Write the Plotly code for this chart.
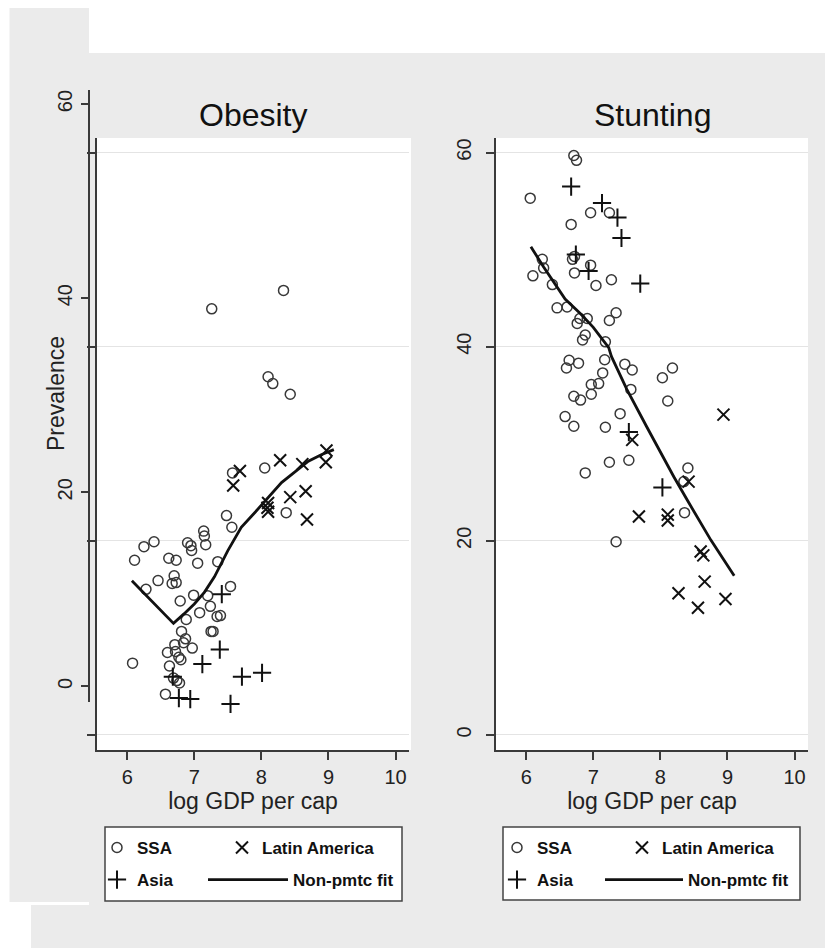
import plotly.graph_objects as go

# ---------------- data ----------------
ob_ssa_x = [7.26, 8.33, 8.10, 8.17, 8.43, 6.11, 6.25, 6.40, 6.28, 6.46, 6.62, 6.73, 6.70, 6.67, 6.73,
            6.79, 6.88, 6.90, 6.95, 6.96, 6.99, 7.05, 7.08, 7.14, 7.15, 7.17, 7.20, 7.24, 7.25, 7.28,
            7.35, 7.34, 7.39, 7.48, 7.56, 7.54, 7.57, 8.05, 8.37, 6.81, 6.87, 6.84, 6.71, 6.97, 6.60,
            6.72, 6.77, 6.80, 6.08, 6.63, 6.69, 6.74, 6.78, 6.57]
ob_ssa_y = [38.9, 40.8, 31.9, 31.2, 30.1, 13.0, 14.4, 14.9, 10.0, 10.9, 13.2, 13.0, 11.4, 10.6, 10.7,
            8.8, 6.9, 14.8, 14.5, 14.0, 9.4, 12.7, 7.6, 16.0, 15.5, 14.6, 9.35, 8.25, 5.67, 5.67,
            12.85, 7.2, 7.3, 17.6, 16.4, 10.3, 22.0, 22.5, 17.9, 5.67, 4.9, 4.5, 4.3, 3.95, 3.5,
            3.6, 3.0, 2.75, 2.4, 2.1, 0.86, 0.6, 0.35, -0.8]
ob_la_x = [7.58, 7.68, 8.10, 8.09, 8.10, 8.28, 8.43, 8.61, 8.66, 8.68, 8.96, 8.97]
ob_la_y = [20.7, 22.2, 18.9, 18.4, 18.0, 23.3, 19.5, 22.9, 20.1, 17.2, 23.1, 24.3]
ob_asia_x = [6.68, 6.77, 6.94, 7.12, 7.38, 7.41, 7.54, 7.71, 8.01]
ob_asia_y = [1.0, -1.2, -1.3, 2.3, 3.8, 9.5, -1.8, 1.0, 1.4]
ob_fit_x = [6.07, 6.69, 6.85, 7.0, 7.15, 7.3, 7.5, 7.7, 7.9, 8.1, 8.3, 8.5, 8.7, 8.9, 9.08]
ob_fit_y = [10.9, 6.5, 7.5, 8.5, 9.7, 11.3, 14.0, 16.4, 17.9, 19.5, 21.0, 22.1, 23.2, 23.9, 24.4]

st_ssa_x = [6.71, 6.75, 6.06, 6.96, 7.24, 6.67, 6.69, 6.72, 6.24, 6.26, 6.10, 6.72, 6.96, 7.04, 7.27,
            6.39, 6.46, 6.61, 6.80, 6.91, 6.76, 7.34, 7.24, 6.88, 6.84, 7.18, 7.17, 6.64, 6.60, 6.78,
            7.47, 7.58, 7.14, 8.03, 8.18, 7.56, 6.97, 7.08, 6.97, 6.71, 6.81, 8.11, 6.58, 6.71, 7.40,
            7.18, 7.24, 7.53, 6.88, 8.41, 8.35, 8.36, 7.34]
st_ssa_y = [59.7, 59.2, 55.3, 53.8, 53.8, 52.6, 49.0, 49.3, 49.0, 48.1, 47.3, 47.6, 48.4, 46.3, 46.9,
            46.4, 44.0, 44.1, 42.9, 42.9, 42.4, 43.5, 42.7, 41.2, 40.7, 40.5, 38.65, 38.6, 37.8, 38.3,
            38.2, 37.6, 37.3, 36.8, 37.8, 35.6, 36.1, 36.2, 35.1, 34.9, 34.5, 34.4, 32.8, 31.8, 33.1,
            31.7, 28.1, 28.3, 27.0, 27.5, 26.1, 22.9, 19.9]
st_la_x = [7.58, 8.94, 8.42, 7.68, 8.11, 8.11, 8.60, 8.64, 8.66, 8.27, 8.56, 8.97]
st_la_y = [30.4, 33.0, 26.1, 22.5, 22.7, 22.1, 18.9, 18.5, 15.8, 14.6, 13.1, 14.0]
st_asia_x = [6.67, 7.13, 7.36, 7.42, 6.74, 6.93, 7.70, 7.53, 8.03]
st_asia_y = [56.5, 54.8, 53.3, 51.2, 49.5, 47.8, 46.5, 31.2, 25.5]
st_fit_x = [6.07, 6.26, 6.58, 6.81, 7.0, 7.23, 7.27, 7.5, 7.8, 8.05, 8.2, 8.4, 8.75, 9.1]
st_fit_y = [50.3, 48.2, 44.9, 43.4, 42.0, 39.9, 39.0, 35.6, 31.7, 28.5, 26.6, 24.2, 20.1, 16.4]

x_ticks = [6, 7, 8, 9, 10]
y_ticks = [0, 20, 40, 60]
inner_ticks = [-5, 15, 35, 55]
panel_titles = ["Obesity", "Stunting"]
x_title = "log GDP per cap"
y_title = "Prevalence"
names = ["SSA", "Latin America", "Asia", "Non-pmtc fit"]

# ---------------- geometry (page pixels; the page body has an 8px margin) ----------------
PAGE_W, PAGE_H = 833, 948
OFF = 8
W, H = PAGE_W - OFF, PAGE_H - OFF
def fx(px): return (px - OFF) / W
def fy(py): return 1 - (py - OFF) / H

FONT = "Liberation Sans, Arial, sans-serif"
GRAY = "#ebebeb"
AX = "#3a3a3a"
CIRC = "#383838"
BLK = "#111111"

SSA_M = dict(symbol="circle-open", size=10, color=CIRC, line=dict(width=1.5, color=CIRC))
LA_M = dict(symbol="x-thin-open", size=12, color=BLK, line=dict(width=2.0, color=BLK))
AS_M = dict(symbol="cross-thin-open", size=13, color=BLK, line=dict(width=2.0, color=BLK))
FIT_L = dict(color=BLK, width=2.8)

fig = go.Figure()
# Obesity panel
fig.add_trace(go.Scatter(x=ob_ssa_x, y=ob_ssa_y, mode="markers", name=names[0], xaxis="x", yaxis="y",
                         legend="legend", marker=SSA_M))
fig.add_trace(go.Scatter(x=ob_la_x, y=ob_la_y, mode="markers", name=names[1], xaxis="x", yaxis="y",
                         legend="legend2", marker=LA_M))
fig.add_trace(go.Scatter(x=ob_asia_x, y=ob_asia_y, mode="markers", name=names[2], xaxis="x", yaxis="y",
                         legend="legend3", marker=AS_M))
fig.add_trace(go.Scatter(x=ob_fit_x, y=ob_fit_y, mode="lines", name=names[3], xaxis="x", yaxis="y3",
                         legend="legend4", line=FIT_L))
# Stunting panel
fig.add_trace(go.Scatter(x=st_ssa_x, y=st_ssa_y, mode="markers", name=names[0], xaxis="x2", yaxis="y2",
                         legend="legend5", marker=SSA_M))
fig.add_trace(go.Scatter(x=st_la_x, y=st_la_y, mode="markers", name=names[1], xaxis="x2", yaxis="y2",
                         legend="legend6", marker=LA_M))
fig.add_trace(go.Scatter(x=st_asia_x, y=st_asia_y, mode="markers", name=names[2], xaxis="x2", yaxis="y2",
                         legend="legend7", marker=AS_M))
fig.add_trace(go.Scatter(x=st_fit_x, y=st_fit_y, mode="lines", name=names[3], xaxis="x2", yaxis="y2",
                         legend="legend8", line=FIT_L))

# ---------------- axes ----------------
PLOT_TOP, PLOT_BOT = 138, 750
SHIFT = 48.5
xcommon = dict(range=[5.55, 10.2], tickmode="array", tickvals=x_ticks, ticks="outside", ticklen=8,
               tickwidth=1.5, tickcolor=AX, showline=True, linecolor=AX, linewidth=1.6,
               showgrid=False, zeroline=False, automargin=False,
               tickfont=dict(size=20, color="#222", family=FONT), ticklabelstandoff=0,
               title=dict(text=x_title, font=dict(size=23, color="#222", family=FONT), standoff=4))
fig.update_layout(
    xaxis=dict(domain=[fx(97), fx(409)], anchor="y", **xcommon),
    xaxis2=dict(domain=[fx(496), fx(808)], anchor="y2", **xcommon),
    yaxis=dict(domain=[fy(PLOT_BOT), fy(PLOT_TOP)], anchor="x", range=[-6.55, 56.5],
               tickmode="array", tickvals=inner_ticks, showticklabels=False, ticks="outside",
               ticklen=8, tickwidth=1.5, tickcolor=AX, showline=True, linecolor=AX, linewidth=1.6,
               showgrid=True, gridcolor="#e4e4e4", gridwidth=1, zeroline=False, automargin=False),
    yaxis3=dict(domain=[fy(PLOT_BOT - SHIFT), fy(PLOT_TOP - SHIFT)], anchor="free", position=fx(89),
                range=[-1.55, 61.5], tickmode="array", tickvals=y_ticks, tickangle=-90,
                ticks="outside", ticklen=7, tickwidth=1.5, tickcolor=AX, showline=True,
                linecolor=AX, linewidth=1.6, showgrid=False, zeroline=False, automargin=False,
                tickfont=dict(size=20, color="#222", family=FONT), ticklabelstandoff=1),
    yaxis2=dict(domain=[fy(PLOT_BOT), fy(PLOT_TOP)], anchor="x2", range=[-1.55, 61.5],
                tickmode="array", tickvals=y_ticks, tickangle=-90, ticks="outside", ticklen=8,
                tickwidth=1.5, tickcolor=AX, showline=True, linecolor=AX, linewidth=1.6,
                showgrid=True, gridcolor="#e4e4e4", gridwidth=1, zeroline=False, automargin=False,
                tickfont=dict(size=20, color="#222", family=FONT), ticklabelstandoff=7),
)

# ---------------- background / boxes ----------------
shapes = []
def rect(x0, y0, x1, y1, fill, line_color=None, lw=0):
    shapes.append(dict(type="rect", xref="paper", yref="paper", x0=fx(x0), x1=fx(x1),
                       y0=fy(y1), y1=fy(y0), fillcolor=fill, layer="below",
                       line=dict(color=line_color or fill, width=lw)))
rect(9.5, 3, 89, 902, GRAY)
rect(89, 53, 840, 960, GRAY)
rect(31, 905, 89, 960, GRAY)
rect(97, PLOT_TOP, 411, PLOT_BOT, "white")
rect(496, PLOT_TOP, 808, PLOT_BOT, "white")
rect(105, 827, 402, 901, "white", "#444444", 1.5)
rect(503, 827, 800, 900, "white", "#444444", 1.5)

annotations = [
    dict(text=panel_titles[0], x=fx(253), y=fy(115), xref="paper", yref="paper", showarrow=False,
         xanchor="center", yanchor="middle", font=dict(size=32, color="#111", family=FONT)),
    dict(text=panel_titles[1], x=fx(652), y=fy(115), xref="paper", yref="paper", showarrow=False,
         xanchor="center", yanchor="middle", font=dict(size=32, color="#111", family=FONT)),
    dict(text=y_title, x=fx(56), y=fy(394), xref="paper", yref="paper", showarrow=False,
         textangle=-90, xanchor="center", yanchor="middle",
         font=dict(size=23, color="#222", family=FONT)),
]

leg_font = dict(size=17, color="#111", family=FONT, weight="bold")
def leg(x, y, iw=30):
    return dict(x=fx(x), y=fy(y), xanchor="left", yanchor="middle", orientation="h",
                bgcolor="rgba(0,0,0,0)", borderwidth=0, font=leg_font, itemwidth=iw,
                itemclick=False, itemdoubleclick=False)

ROW1, ROW2 = 848, 880
fig.update_layout(
    width=W, height=H, autosize=False, template="none",
    margin=dict(l=0, r=0, t=0, b=0, pad=0),
    paper_bgcolor="white", plot_bgcolor="rgba(0,0,0,0)",
    font=dict(family=FONT, color="#222"),
    shapes=shapes, annotations=annotations, showlegend=True,
    legend=leg(97, ROW1), legend2=leg(222, ROW1), legend3=leg(97, ROW2), legend4=leg(203, ROW2, iw=80),
    legend5=leg(497, ROW1), legend6=leg(622, ROW1), legend7=leg(497, ROW2), legend8=leg(600, ROW2, iw=78),
)

fig.write_html("out.html")
